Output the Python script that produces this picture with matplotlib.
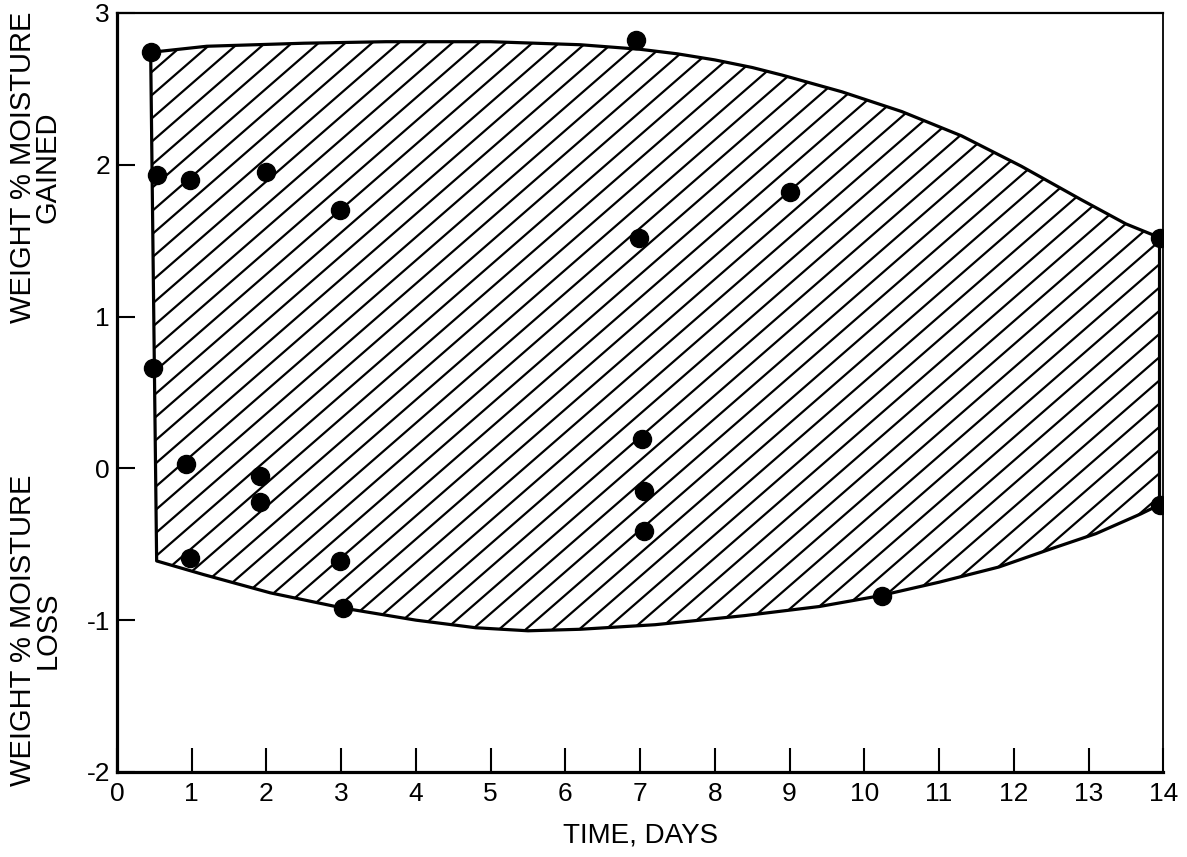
import numpy as np
import matplotlib.pyplot as plt
from matplotlib.patches import Polygon

plt.rcParams["font.family"] = ["Liberation Sans", "DejaVu Sans"]

# Measured moisture change of the specimens
days = [0.45, 0.54, 0.98, 1.99, 2.99, 0.48, 0.92, 0.98, 1.91, 1.91, 2.99, 3.02,
        6.95, 6.98, 7.03, 7.05, 7.05, 9.00, 10.23, 13.95, 13.95]
moisture = [2.74, 1.93, 1.90, 1.95, 1.70, 0.66, 0.03, -0.59, -0.05, -0.22, -0.61, -0.92,
            2.82, 1.52, 0.19, -0.15, -0.41, 1.82, -0.84, 1.52, -0.24]

# Envelope drawn round the scatter
upper_x = [0.45, 1.2, 2.5, 3.6, 5.0, 6.2, 7.0, 7.5, 8.0, 8.5, 8.9, 9.7, 10.5, 11.3, 12.1,
           12.9, 13.5, 13.95]
upper_y = [2.74, 2.78, 2.80, 2.81, 2.81, 2.79, 2.76, 2.73, 2.69, 2.64, 2.59, 2.48, 2.35,
           2.19, 1.99, 1.77, 1.61, 1.52]
lower_x = [0.53, 1.16, 2.05, 3.02, 4.0, 4.8, 5.5, 6.2, 7.2, 8.4, 9.4, 10.2, 11.0, 11.8,
           12.5, 13.1, 13.7, 13.95]
lower_y = [-0.61, -0.70, -0.82, -0.92, -1.00, -1.05, -1.07, -1.06, -1.03, -0.97, -0.91,
           -0.84, -0.75, -0.65, -0.53, -0.43, -0.30, -0.24]

xticks = list(range(0, 15))
yticks = [-2, -1, 0, 1, 2, 3]

fig = plt.figure(figsize=(11.87, 8.57), dpi=100)
ax = fig.add_axes([0.0986, 0.0992, 0.8814, 0.8858])
ax.set_xlim(0, 14)
ax.set_ylim(-2, 3)

# shaded band
poly_x = upper_x + lower_x[::-1]
poly_y = upper_y + lower_y[::-1]
band = Polygon(np.column_stack([poly_x, poly_y]), closed=True, fill=False,
               edgecolor="black", linewidth=2.3, joinstyle="round", zorder=3)
ax.add_patch(band)

# diagonal hatching clipped to the band
slope = 0.428
step = 0.153
hx = np.array([0, 14])
for c in np.arange(-2 - slope * 14, 3.2, step):
    ln, = ax.plot(hx, c + slope * hx, color="black", linewidth=1.6, zorder=2)
    ln.set_clip_path(band)

ax.plot(days, moisture, "o", color="black", markersize=13, zorder=4)

ax.set_xticks(xticks)
ax.set_yticks(yticks)
ax.set_yticklabels(["-2", "-1", "0", "1", "2", "3"])
ax.tick_params(axis="x", direction="in", length=17, width=1.5, pad=7, labelsize=19)
ax.tick_params(axis="y", direction="in", length=13, width=1.5, pad=5, labelsize=19)

ax.spines["left"].set_linewidth(2.3)
ax.spines["bottom"].set_linewidth(2.3)
ax.spines["top"].set_linewidth(1.6)
ax.spines["right"].set_linewidth(1.3)

ax.set_xlabel("TIME, DAYS", fontsize=20, labelpad=12)
fig.text(0.030, 0.805, "WEIGHT % MOISTURE\nGAINED", rotation=90, fontsize=21,
         ha="center", va="center", multialignment="center", linespacing=0.85)
fig.text(0.030, 0.265, "WEIGHT % MOISTURE\nLOSS", rotation=90, fontsize=21,
         ha="center", va="center", multialignment="center", linespacing=0.85)

fig.savefig("out.png", dpi=100)
